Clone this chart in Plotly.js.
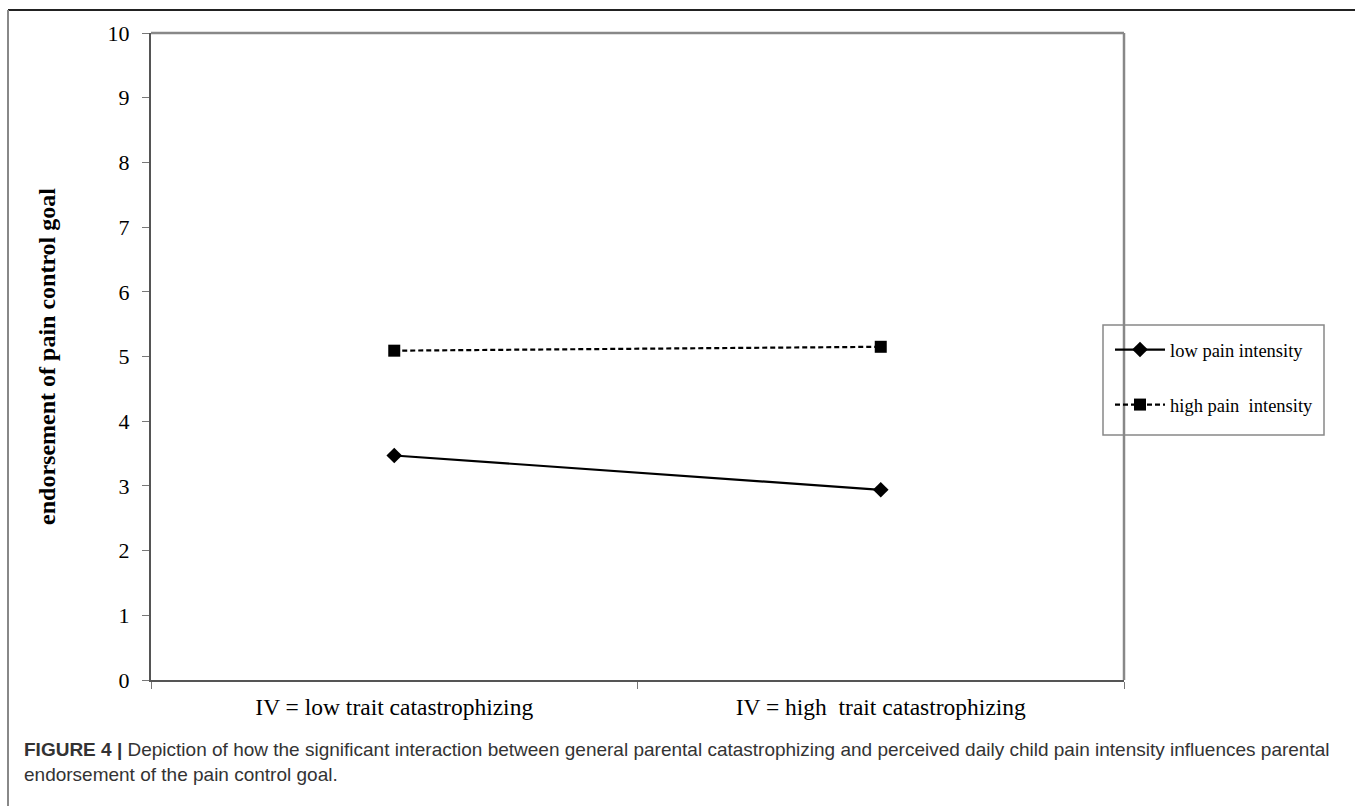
<!DOCTYPE html>
<html>
<head>
<meta charset="utf-8">
<script src="https://cdn.plot.ly/plotly-3.0.1.min.js"></script>
<style>html,body{margin:0;padding:0;background:#fff;}#chart{width:1355px;height:806px;}</style>
</head>
<body>
<div id="chart"></div>
<script>
const categories = ["IV = low trait catastrophizing", "IV = high  trait catastrophizing"];
const lowPain = [3.47, 2.94];
const highPain = [5.09, 5.15];
const seriesNames = ["low pain intensity", "high pain  intensity"];
const yTicks = [0,1,2,3,4,5,6,7,8,9,10];

const W = 1355, H = 806;
const L = 151, R = 1124, T = 33, B = 680;
const pw = R - L, ph = B - T;
const px = x => (x - L) / pw;
const py = y => (B - y) / ph;

const serif = "Liberation Serif, Times New Roman, serif";

const traces = [
  {x: categories, y: lowPain, name: seriesNames[0], type: "scatter", mode: "lines+markers",
   line: {color: "#000", width: 2.2, dash: "solid"},
   marker: {symbol: "diamond", size: 12, color: "#000"}, legendgroup: "a"},
  {x: categories, y: highPain, name: seriesNames[1], type: "scatter", mode: "lines+markers",
   line: {color: "#000", width: 2.2, dash: "5px,3px"},
   marker: {symbol: "square", size: 12, color: "#000"}, legendgroup: "b"}
];

const layout = {
  width: W, height: H,
  margin: {l: L, r: W - R, t: T, b: H - B},
  paper_bgcolor: "#fff", plot_bgcolor: "#fff",
  showlegend: true,
  font: {family: serif, color: "#000"},
  xaxis: {
    type: "category", range: [-0.5, 1.5],
    showgrid: false, zeroline: false,
    showline: true, linecolor: "#555", linewidth: 2,
    ticks: "outside", tickson: "boundaries", ticklen: 7, tickcolor: "#777", tickwidth: 1,
    tickfont: {family: serif, size: 23.5, color: "#000"},
    ticklabelstandoff: 5,
    fixedrange: true
  },
  yaxis: {
    range: [0, 10], tickvals: yTicks, ticktext: yTicks.map(String),
    showgrid: false, zeroline: false,
    showline: true, linecolor: "#555", linewidth: 2,
    ticks: "outside", ticklen: 7, tickcolor: "#777", tickwidth: 1,
    tickfont: {family: serif, size: 22, color: "#000"},
    ticklabelstandoff: 8,
    title: {text: "<b>endorsement of pain control goal</b>", font: {family: serif, size: 24, color: "#000"}, standoff: 45},
    automargin: false,
    fixedrange: true
  },
  legend: {
    x: px(1110), y: py(331), xanchor: "left", yanchor: "top",
    borderwidth: 0, bgcolor: "rgba(0,0,0,0)",
    font: {family: serif, size: 18.5, color: "#000"},
    traceorder: "grouped", tracegroupgap: 28, itemwidth: 50
  },
  shapes: [
    {type: "line", xref: "paper", yref: "paper", x0: 0, x1: 1, y0: 1, y1: 1, line: {color: "#888", width: 2.5}},
    {type: "line", xref: "paper", yref: "paper", x0: 1, x1: 1, y0: 0, y1: 1, line: {color: "#888", width: 2.5}},
    {type: "line", xref: "paper", yref: "paper", x0: px(8), x1: px(W + 5), y0: py(10), y1: py(10), line: {color: "#222", width: 2}},
    {type: "line", xref: "paper", yref: "paper", x0: px(8), x1: px(8), y0: py(10), y1: py(H + 5), line: {color: "#888", width: 2}},
    {type: "rect", xref: "paper", yref: "paper", x0: px(1103), x1: px(1324), y0: py(325), y1: py(435), line: {color: "#888", width: 1.5}, fillcolor: "rgba(0,0,0,0)"}
  ],
  annotations: [
    {xref: "paper", yref: "paper", x: px(22), y: py(737), xanchor: "left", yanchor: "top", align: "left",
     showarrow: false,
     text: "<b>FIGURE 4 |</b> Depiction of how the significant interaction between general parental catastrophizing and perceived daily child pain intensity influences parental<br>endorsement of the pain control goal.",
     font: {family: "Liberation Sans, Arial, sans-serif", size: 19, color: "#333"}}
  ]
};

Plotly.newPlot("chart", traces, layout, {displayModeBar: false, staticPlot: true});
</script>
</body>
</html>
